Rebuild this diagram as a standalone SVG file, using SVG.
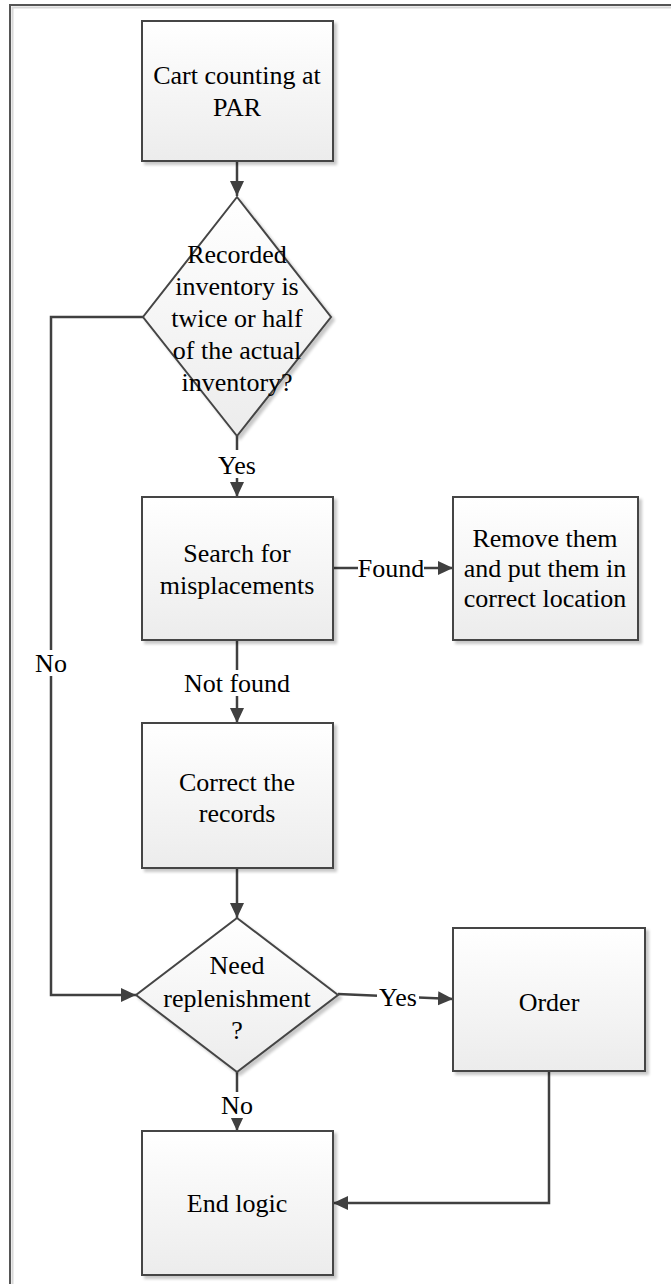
<svg xmlns="http://www.w3.org/2000/svg" width="671" height="1284" viewBox="0 0 671 1284">
  <defs>
    <linearGradient id="fillGrad" x1="0" y1="0" x2="0" y2="1">
      <stop offset="0" stop-color="#ffffff"/>
      <stop offset="1" stop-color="#ececec"/>
    </linearGradient>
    <filter id="shadow" x="-10%" y="-10%" width="130%" height="130%">
      <feGaussianBlur in="SourceAlpha" stdDeviation="1.5"/>
      <feOffset dx="3" dy="3" result="off"/>
      <feComponentTransfer><feFuncA type="linear" slope="0.22"/></feComponentTransfer>
      <feMerge><feMergeNode/><feMergeNode in="SourceGraphic"/></feMerge>
    </filter>
    <marker id="arrow" markerUnits="userSpaceOnUse" markerWidth="16" markerHeight="16" refX="15" refY="8" orient="auto">
      <path d="M0,1 L15,8 L0,15 z" fill="#404040"/>
    </marker>
  </defs>
  <style>
    .shape { fill: url(#fillGrad); stroke: #454545; stroke-width: 2; filter: url(#shadow); }
    .label { font-family: 'Liberation Serif', 'Times New Roman', serif; font-size: 26px; fill: #000; text-anchor: middle; }
    .conn { fill: none; stroke: #404040; stroke-width: 2.5; }
    .bg { fill: #ffffff; }
  </style>

  <!-- page frame -->
  <g id="frame">
    <path d="M12.5,1284 V7.5 H671" fill="none" stroke="#d8d8d8" stroke-width="2"/>
    <path d="M10,1284 V5 H671" fill="none" stroke="#555555" stroke-width="2"/>
  </g>

  <!-- connectors -->
  <g id="connectors">
    <path class="conn" d="M237,161 V196" marker-end="url(#arrow)"/>
    <path class="conn" d="M237,436 V497" marker-end="url(#arrow)"/>
    <path class="conn" d="M333,568 H453" marker-end="url(#arrow)"/>
    <path class="conn" d="M237,640 V723" marker-end="url(#arrow)"/>
    <path class="conn" d="M237,868 V918" marker-end="url(#arrow)"/>
    <path class="conn" d="M143,317 H51 V995 H136" marker-end="url(#arrow)"/>
    <path class="conn" d="M338,994 L453,999" marker-end="url(#arrow)"/>
    <path class="conn" d="M237,1072 V1131" marker-end="url(#arrow)"/>
    <path class="conn" d="M549,1071 V1203 H333" marker-end="url(#arrow)"/>

    <!-- connector labels -->
    <rect class="bg" x="219" y="450" width="36" height="28"/>
    <text class="label" x="237" y="474">Yes</text>
    <rect class="bg" x="358" y="556" width="66" height="26"/>
    <text class="label" x="391" y="577">Found</text>
    <rect class="bg" x="184" y="670" width="106" height="26"/>
    <text class="label" x="237" y="692">Not found</text>
    <rect class="bg" x="36" y="650" width="30" height="26"/>
    <text class="label" x="51" y="672">No</text>
    <rect class="bg" x="377" y="984" width="42" height="26"/>
    <text class="label" x="398" y="1006">Yes</text>
    <rect class="bg" x="221" y="1092" width="32" height="26"/>
    <text class="label" x="237" y="1114">No</text>
  </g>

  <g id="cart-counting">
    <rect class="shape" x="142" y="21" width="191" height="140"/>
    <text class="label" x="237" y="84">Cart counting at</text>
    <text class="label" x="237" y="116">PAR</text>
  </g>

  <g id="inventory-check">
    <polygon class="shape" points="237,197 331,317 237,436 143,317"/>
    <text class="label" x="237" y="263">Recorded</text>
    <text class="label" x="237" y="295">inventory is</text>
    <text class="label" x="237" y="327">twice or half</text>
    <text class="label" x="237" y="359">of the actual</text>
    <text class="label" x="237" y="391">inventory?</text>
  </g>

  <g id="search">
    <rect class="shape" x="142" y="497" width="191" height="143"/>
    <text class="label" x="237" y="562">Search for</text>
    <text class="label" x="237" y="594">misplacements</text>
  </g>

  <g id="remove">
    <rect class="shape" x="453" y="497" width="185" height="143"/>
    <text class="label" x="545" y="547">Remove them</text>
    <text class="label" x="545" y="577">and put them in</text>
    <text class="label" x="545" y="607">correct location</text>
  </g>

  <g id="correct-records">
    <rect class="shape" x="142" y="723" width="191" height="145"/>
    <text class="label" x="237" y="791">Correct the</text>
    <text class="label" x="237" y="822">records</text>
  </g>

  <g id="replenishment-check">
    <polygon class="shape" points="237,918 338,995 237,1072 136,995"/>
    <text class="label" x="237" y="974">Need</text>
    <text class="label" x="237" y="1007">replenishment</text>
    <text class="label" x="237" y="1039">?</text>
  </g>

  <g id="order">
    <rect class="shape" x="453" y="928" width="192" height="143"/>
    <text class="label" x="549" y="1011">Order</text>
  </g>

  <g id="end-logic">
    <rect class="shape" x="142" y="1131" width="191" height="144"/>
    <text class="label" x="237" y="1212">End logic</text>
  </g>
</svg>
